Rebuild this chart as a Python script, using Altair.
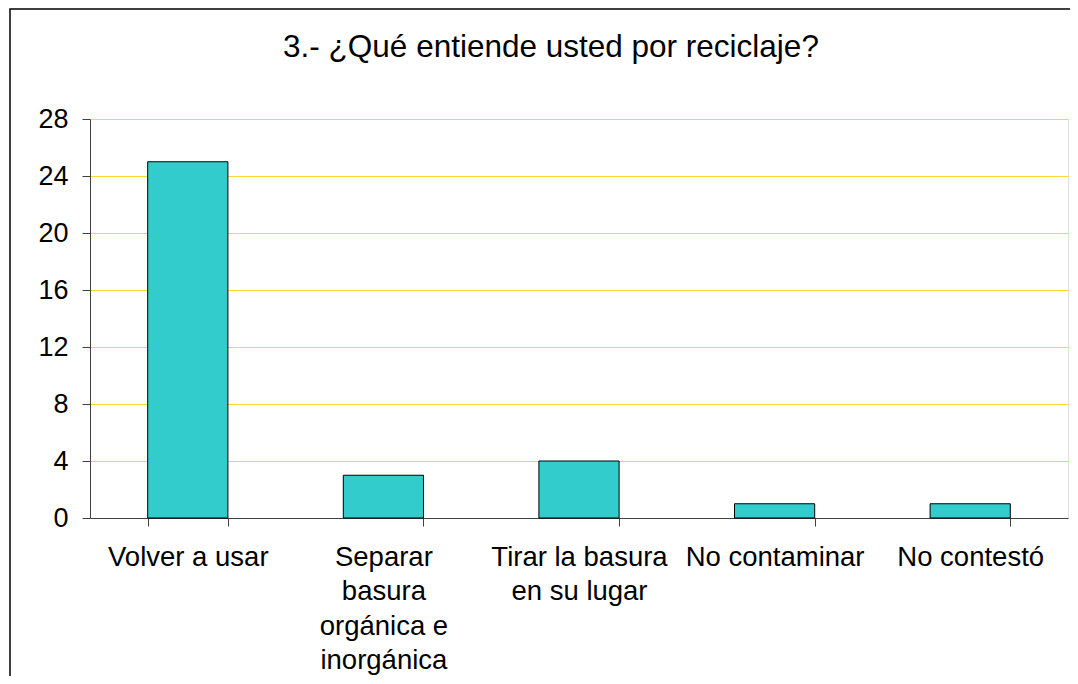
import altair as alt
import pandas as pd

categories = ["Volver a usar", "Separar|basura|orgánica e|inorgánica",
              "Tirar la basura|en su lugar", "No contaminar", "No contestó"]
values = [25, 3, 4, 1, 1]
y_ticks = [0, 4, 8, 12, 16, 20, 24, 28]
title_text = "3.- ¿Qué entiende usted por reciclaje?"

df = pd.DataFrame({"cat": categories, "val": values})
FONT = "Liberation Sans"

bars = alt.Chart(df).mark_bar(color="#33CCCC", stroke="black", strokeWidth=1).encode(
    x=alt.X("cat:N", sort=categories,
            scale=alt.Scale(paddingInner=0.59, paddingOuter=0.295),
            axis=alt.Axis(title=None, labelAngle=0, labelExpr="split(datum.label, '|')",
                          labelFont=FONT, labelFontSize=27.5, labelColor="black",
                          labelLineHeight=34.5, labelLimit=0, labelPadding=17,
                          labelBaseline="top",
                          tickBand="extent", tickSize=8, tickColor="#404040",
                          domainColor="#404040", grid=False)),
    y=alt.Y("val:Q", scale=alt.Scale(domain=[0, 28], nice=False),
            axis=alt.Axis(title=None, values=y_ticks, labelFont=FONT, labelFontSize=27,
                          labelColor="black", labelPadding=14, tickSize=8,
                          tickColor="#404040", domainColor="#404040",
                          grid=True, gridColor="#FFD633", gridWidth=1)),
)

frame = alt.Chart(pd.DataFrame({"a": [0]})).mark_rect(
    filled=False, stroke="black", strokeWidth=1.5, clip=False
).encode(
    x=alt.value(-80), x2=alt.value(1000), y=alt.value(-110), y2=alt.value(620)
)

title = alt.Chart(pd.DataFrame({"t": [title_text]})).mark_text(
    font=FONT, fontSize=31.5, color="black", align="center", baseline="alphabetic"
).encode(
    text="t:N", x=alt.value(461), y=alt.value(-62)
)

chart = alt.layer(bars, frame, title).properties(
    width=978, height=399,
    autosize=alt.AutoSizeParams(type="none"),
    padding={"left": 82, "top": 111, "right": 2, "bottom": 158},
).configure_view(stroke="#A0A0A0", strokeWidth=1.5).configure(background="white")

chart.save("out.html", embed_options={"renderer": "svg", "actions": False})
